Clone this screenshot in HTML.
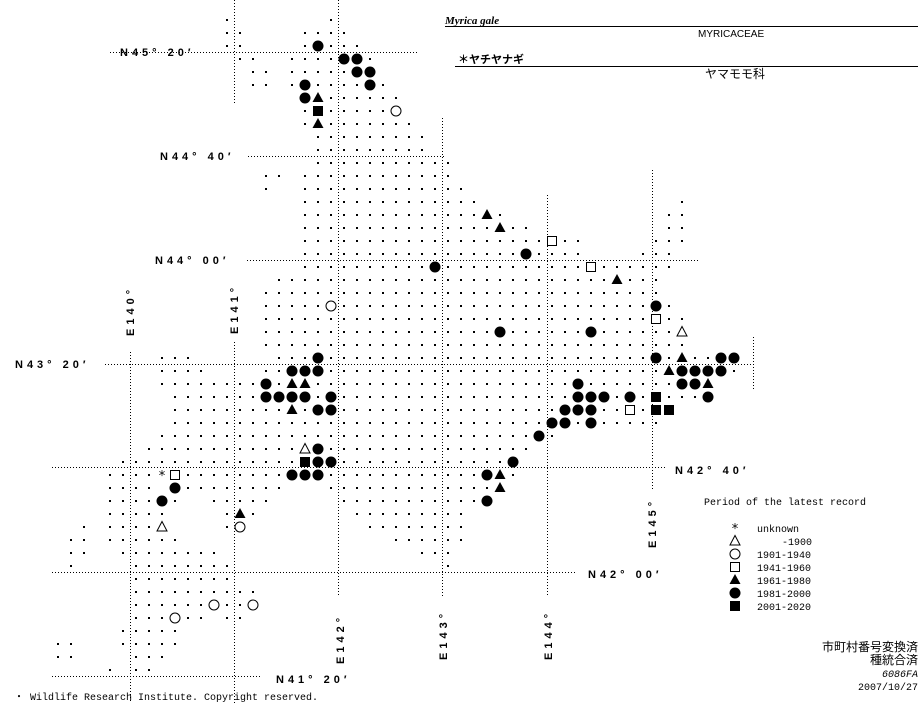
<!DOCTYPE html>
<html><head><meta charset="utf-8">
<style>
html,body{margin:0;padding:0;background:#fff;}
body{width:923px;height:703px;overflow:hidden;}
svg{display:block;}
.lab{font-family:"Liberation Sans",sans-serif;font-weight:bold;font-size:11px;letter-spacing:4px;fill:#000;}
.mono{font-family:"Liberation Mono","DejaVu Sans Mono",monospace;font-size:10px;fill:#000;}
.jp{font-family:"Liberation Sans","Noto Sans CJK JP",sans-serif;font-size:12px;fill:#000;}
</style></head><body>
<svg id="s" width="923" height="703" viewBox="0 0 923 703" xmlns="http://www.w3.org/2000/svg">
<g stroke="#000" stroke-width="1" stroke-dasharray="1,2" fill="none">
<line x1="110" y1="52.5" x2="417" y2="52.5"/>
<line x1="248" y1="156.5" x2="445" y2="156.5"/>
<line x1="247" y1="260.5" x2="700" y2="260.5"/>
<line x1="105" y1="364.5" x2="755" y2="364.5"/>
<line x1="52" y1="467.5" x2="665" y2="467.5"/>
<line x1="52" y1="572.5" x2="575" y2="572.5"/>
<line x1="52" y1="676.5" x2="262" y2="676.5"/>
<line x1="234.5" y1="0" x2="234.5" y2="105"/>
<line x1="234.5" y1="342" x2="234.5" y2="703"/>
<line x1="130.5" y1="352" x2="130.5" y2="703"/>
<line x1="338.5" y1="0" x2="338.5" y2="597"/>
<line x1="442.5" y1="118" x2="442.5" y2="597"/>
<line x1="547.5" y1="195" x2="547.5" y2="597"/>
<line x1="652.5" y1="170" x2="652.5" y2="490"/>
<line x1="753.5" y1="337" x2="753.5" y2="390"/>
</g>
<g id="dots"></g>
<g id="marks"></g>
<text class="lab" x="120" y="56">N45° 20′</text>
<text class="lab" x="160" y="160">N44° 40′</text>
<text class="lab" x="155" y="264">N44° 00′</text>
<text class="lab" x="15" y="368">N43° 20′</text>
<text class="lab" x="675" y="474">N42° 40′</text>
<text class="lab" x="588" y="578">N42° 00′</text>
<text class="lab" x="276" y="683">N41° 20′</text>
<text class="lab" transform="translate(134,336) rotate(-90)">E140°</text>
<text class="lab" transform="translate(238,334) rotate(-90)">E141°</text>
<text class="lab" transform="translate(344,664) rotate(-90)">E142°</text>
<text class="lab" transform="translate(447,660) rotate(-90)">E143°</text>
<text class="lab" transform="translate(552,660) rotate(-90)">E144°</text>
<text class="lab" transform="translate(656,548) rotate(-90)">E145°</text>
<text x="445" y="24" font-family="Liberation Serif,serif" font-style="italic" font-weight="bold" font-size="11">Myrica gale</text>
<line x1="445" y1="26.5" x2="918" y2="26.5" stroke="#000"/>
<text x="698" y="37" font-family="Liberation Sans,sans-serif" font-size="10">MYRICACEAE</text>
<text x="458" y="63" font-family="Liberation Sans,'Noto Sans CJK JP',sans-serif" font-weight="bold" font-size="11">＊ヤチヤナギ</text>
<line x1="455" y1="66.5" x2="918" y2="66.5" stroke="#000"/>
<text x="705" y="78" class="jp" font-size="11">ヤマモモ科</text>
<text class="mono" x="704" y="505">Period of the latest record</text>
<text class="mono" x="757" y="532">unknown</text>
<text class="mono" x="782" y="545">-1900</text>
<text class="mono" x="757" y="558">1901-1940</text>
<text class="mono" x="757" y="571">1941-1960</text>
<text class="mono" x="757" y="584">1961-1980</text>
<text class="mono" x="757" y="597">1981-2000</text>
<text class="mono" x="757" y="610">2001-2020</text>
<text class="jp" x="918" y="651" text-anchor="end">市町村番号変換済</text>
<text class="jp" x="918" y="664" text-anchor="end">種統合済</text>
<text class="mono" x="918" y="677" text-anchor="end" font-style="italic">6086FA</text>
<text class="mono" x="918" y="690" text-anchor="end">2007/10/27</text>
<text class="mono" x="14" y="700">・ Wildlife Research Institute. Copyright reserved.</text>
</svg>
<script>
function X(k){return 6+13*k;} function Y(j){return 7+13*j;}
var rows={1:[[17,17],[25,25]],2:[[17,18],[23,26]],3:[[17,18],[23,27]],4:[[18,19],[22,28]],5:[[19,20],[22,28]],6:[[19,20],[22,29]],
7:[[23,30]],8:[[23,30]],9:[[23,31]],10:[[24,32]],11:[[24,32]],12:[[24,34]],13:[[20,21],[23,34]],14:[[20,20],[23,35]],
15:[[23,36],[52,52]],16:[[23,38],[51,52]],17:[[23,40],[51,52]],18:[[23,44],[50,52]],19:[[23,44],[49,51]],20:[[23,51]],
21:[[21,50]],22:[[20,50]],23:[[20,51]],24:[[20,52]],25:[[20,52]],26:[[20,52]],27:[[12,14],[21,56]],28:[[12,15],[20,56]],
29:[[12,54]],30:[[13,54]],31:[[13,51]],32:[[13,50]],33:[[12,42]],34:[[11,40]],35:[[9,39]],36:[[8,39]],
37:[[8,11],[13,21],[25,38]],38:[[8,13],[16,20],[26,37]],39:[[8,12],[17,19],[27,35]],40:[[6,6],[8,12],[17,18],[28,35]],
41:[[5,6],[8,13],[30,35]],42:[[5,6],[9,16],[32,34]],43:[[5,5],[10,17],[34,34]],44:[[10,17]],45:[[10,19]],46:[[10,19]],
47:[[10,15],[17,18]],48:[[9,13]],49:[[4,5],[9,13]],50:[[4,5],[10,12]],51:[[8,8],[10,11]]};
var M=[[3,24,'C'],[4,26,'C'],[4,27,'C'],[5,27,'C'],[5,28,'C'],[6,23,'C'],[6,28,'C'],[7,23,'C'],[7,24,'T'],[8,24,'S'],[8,30,'OC'],[9,24,'T'],
[16,37,'T'],[17,38,'T'],[18,42,'OS'],[19,40,'C'],[20,33,'C'],[20,45,'OS'],[21,47,'T'],[23,25,'OC'],[23,50,'C'],[24,50,'OS'],
[25,38,'C'],[25,45,'C'],[25,52,'OT'],[27,24,'C'],[27,50,'C'],[27,52,'T'],[27,55,'C'],[27,56,'C'],
[28,22,'C'],[28,23,'C'],[28,24,'C'],[28,51,'T'],[28,52,'C'],[28,53,'C'],[28,54,'C'],[28,55,'C'],
[29,20,'C'],[29,22,'T'],[29,23,'T'],[29,44,'C'],[29,52,'C'],[29,53,'C'],[29,54,'T'],
[30,20,'C'],[30,21,'C'],[30,22,'C'],[30,23,'C'],[30,25,'C'],[30,44,'C'],[30,45,'C'],[30,46,'C'],[30,48,'C'],[30,50,'S'],[30,54,'C'],
[31,22,'T'],[31,24,'C'],[31,25,'C'],[31,43,'C'],[31,44,'C'],[31,45,'C'],[31,48,'OS'],[31,50,'S'],[31,51,'S'],
[32,42,'C'],[32,43,'C'],[32,45,'C'],[33,41,'C'],[34,23,'OT'],[34,24,'C'],[35,23,'S'],[35,24,'C'],[35,25,'C'],[35,39,'C'],
[36,12,'A'],[36,13,'OS'],[36,22,'C'],[36,23,'C'],[36,24,'C'],[36,37,'C'],[36,38,'T'],[37,13,'C'],[37,38,'T'],
[38,12,'C'],[38,37,'C'],[39,18,'T'],[40,12,'OT'],[40,18,'OC'],[46,16,'OC'],[46,19,'OC'],[47,13,'OC']];
var taken={};M.forEach(function(m){taken[m[0]+'_'+m[1]]=1;});
var dg=document.getElementById('dots'),h='';
for(var j in rows){rows[j].forEach(function(r){for(var k=r[0];k<=r[1];k++){if(taken[j+'_'+k])continue;
h+='<rect x="'+(X(k)-1)+'" y="'+(Y(+j)-1)+'" width="2" height="2" fill="#000"/>';}});}
dg.innerHTML=h;
function mk(t,x,y){
 if(t=='C')return '<circle cx="'+x+'" cy="'+y+'" r="5.5" fill="#000"/>';
 if(t=='OC')return '<circle cx="'+x+'" cy="'+y+'" r="5" fill="#fff" stroke="#000"/>';
 if(t=='S')return '<rect x="'+(x-5)+'" y="'+(y-5)+'" width="10" height="10" fill="#000"/>';
 if(t=='OS')return '<rect x="'+(x-4.5)+'" y="'+(y-4.5)+'" width="9" height="9" fill="#fff" stroke="#000"/>';
 if(t=='T')return '<polygon points="'+x+','+(y-6)+' '+(x-5.5)+','+(y+4)+' '+(x+5.5)+','+(y+4)+'" fill="#000"/>';
 if(t=='OT')return '<polygon points="'+x+','+(y-5.5)+' '+(x-5)+','+(y+4)+' '+(x+5)+','+(y+4)+'" fill="#fff" stroke="#000"/>';
 if(t=='A')return '<text x="'+x+'" y="'+(y+5)+'" text-anchor="middle" font-family="DejaVu Sans,sans-serif" font-size="13">*</text>';
 return '';}
var s='';M.forEach(function(m){s+=mk(m[2],X(m[1]),Y(m[0]));});
var ly=[528,541,554,567,580,593,606],lt=['A','OT','OC','OS','T','C','S'];
for(var i=0;i<7;i++)s+=mk(lt[i],735,ly[i]);
document.getElementById('marks').innerHTML=s;
</script>
</body></html>
